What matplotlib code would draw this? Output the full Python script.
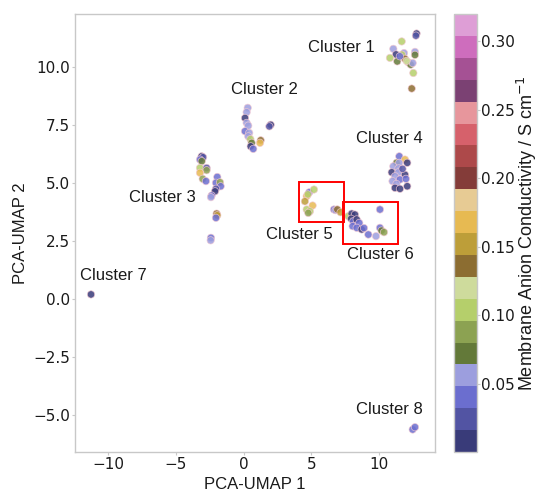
import matplotlib
matplotlib.use("Agg")
import matplotlib.pyplot as plt
import numpy as np
from matplotlib.patches import Rectangle

# ---------------- data ----------------
c1_x = [12.79, 12.74, 11.69, 11.07, 11.27, 11.86, 12.67, 12.67, 10.82, 11.36, 11.71, 11.93, 12.17, 12.35, 12.50, 11.55, 12.55, 12.43, 12.05]
c1_y = [11.43, 11.34, 11.09, 10.77, 10.53, 10.59, 10.64, 10.51, 10.38, 10.23, 10.52, 10.34, 10.19, 10.09, 10.16, 10.45, 9.73, 9.06, 10.25]
c1_v = [0.010, 0.020, 0.100, 0.050, 0.010, 0.050, 0.055, 0.070, 0.100, 0.070, 0.105, 0.135, 0.110, 0.075, 0.060, 0.045, 0.110, 0.135, 0.120]

c2_x = [0.30, 0.22, 0.10, 0.22, 0.34, 2.00, 1.90, 0.10, 0.41, 0.34, 0.50, 0.59, 1.26, 1.21, 0.52, 0.71]
c2_y = [8.23, 8.04, 7.79, 7.58, 7.46, 7.50, 7.43, 7.22, 7.15, 7.00, 6.88, 6.72, 6.83, 6.72, 6.57, 6.46]
c2_v = [0.055, 0.055, 0.010, 0.055, 0.055, 0.010, 0.020, 0.040, 0.055, 0.060, 0.100, 0.070, 0.140, 0.165, 0.010, 0.035]

c3_x = [-3.11, -3.00, -3.23, -3.10, -3.23, -2.74, -2.74, -3.23, -3.03, -2.79, -1.95, -2.05, -1.75, -1.70, -2.05, -2.12, -2.37, -2.42, -2.00, -1.95, -2.05, -2.42, -2.44]
c3_y = [6.14, 6.10, 6.00, 5.93, 5.64, 5.64, 5.54, 5.43, 5.17, 5.07, 5.25, 5.00, 5.02, 4.85, 4.74, 4.63, 4.45, 4.38, 3.67, 3.60, 3.49, 2.63, 2.52]
c3_v = [0.010, 0.025, 0.040, 0.070, 0.100, 0.020, 0.090, 0.165, 0.085, 0.040, 0.040, 0.040, 0.090, 0.040, 0.020, 0.010, 0.040, 0.055, 0.135, 0.150, 0.040, 0.040, 0.055]

c4_x = [11.51, 11.93, 11.31, 11.50, 12.10, 11.07, 11.45, 10.95, 11.44, 11.93, 11.19, 11.01, 11.56, 12.00, 11.30, 11.19, 11.56, 12.10, 11.75]
c4_y = [6.14, 6.00, 5.86, 5.86, 5.86, 5.71, 5.62, 5.45, 5.45, 5.35, 5.28, 5.07, 5.14, 5.17, 4.95, 4.78, 4.74, 4.85, 5.60]
c4_v = [0.040, 0.165, 0.075, 0.055, 0.010, 0.055, 0.055, 0.010, 0.055, 0.010, 0.055, 0.055, 0.040, 0.040, 0.060, 0.010, 0.010, 0.010, 0.020]

c5_x = [4.85, 5.20, 4.66, 4.53, 4.75, 5.10, 4.66, 4.90, 4.78, 6.68, 6.80, 6.93, 7.17]
c5_y = [4.59, 4.71, 4.42, 4.20, 4.50, 4.02, 3.85, 3.77, 3.70, 3.85, 3.82, 3.85, 3.73]
c5_v = [0.040, 0.100, 0.165, 0.150, 0.100, 0.165, 0.100, 0.100, 0.085, 0.040, 0.055, 0.135, 0.150]

c6_x = [10.08, 7.74, 7.99, 8.23, 7.95, 8.11, 8.36, 8.55, 8.06, 8.36, 8.73, 8.90, 9.22, 9.79, 10.08, 10.20, 10.38]
c6_y = [3.85, 3.56, 3.67, 3.63, 3.45, 3.34, 3.42, 3.27, 3.13, 3.06, 2.99, 3.05, 2.77, 2.70, 3.06, 2.94, 2.87]
c6_v = [0.040, 0.100, 0.010, 0.010, 0.010, 0.040, 0.010, 0.040, 0.040, 0.040, 0.010, 0.040, 0.040, 0.055, 0.040, 0.075, 0.085]

c7_x = [-11.29]
c7_y = [0.19]
c7_v = [0.010]

c8_x = [12.50, 12.67]
c8_y = [-5.63, -5.53]
c8_v = [0.040, 0.040]

cluster_names = ["Cluster 1", "Cluster 2", "Cluster 3", "Cluster 4",
                 "Cluster 5", "Cluster 6", "Cluster 7", "Cluster 8"]
label_x = [7.25, 1.50, -6.00, 10.75, 4.09, 10.14, -9.65, 10.75]
label_y = [10.84, 9.00, 4.35, 6.89, 2.77, 1.91, 1.00, -4.77]

# highlighted regions: (x0, y0, x1, y1)
box_cluster5 = (4.10, 3.32, 7.42, 5.04)
box_cluster6 = (7.38, 2.37, 11.39, 4.18)

cbar_ticks = [0.05, 0.10, 0.15, 0.20, 0.25, 0.30]
v_min, v_max = 0.0, 0.32

# ---------------- plotting ----------------
xs = np.concatenate([c1_x, c2_x, c3_x, c4_x, c5_x, c6_x, c7_x, c8_x])
ys = np.concatenate([c1_y, c2_y, c3_y, c4_y, c5_y, c6_y, c7_y, c8_y])
vs = np.concatenate([c1_v, c2_v, c3_v, c4_v, c5_v, c6_v, c7_v, c8_v])

TXT = ["Liberation Sans", "DejaVu Sans"]
TCK = ["DejaVu Sans"]
grey = "#c8c8c8"

fig = plt.figure(figsize=(5.39, 4.91), dpi=100)
ax = fig.add_axes([0.139, 0.0794, 0.668, 0.892])
cax = fig.add_axes([0.843, 0.0794, 0.0414, 0.892])

sc = ax.scatter(xs, ys, c=vs, cmap="tab20b", vmin=v_min, vmax=v_max,
                s=28, alpha=0.85, edgecolors="#f3c9d2", linewidths=0.5, zorder=3)

for (x0, y0, x1, y1) in (box_cluster5, box_cluster6):
    ax.add_patch(Rectangle((x0, y0), x1 - x0, y1 - y0, fill=False,
                           edgecolor="red", linewidth=1.4, zorder=4))

for name, lx, ly in zip(cluster_names, label_x, label_y):
    ax.text(lx, ly, name, ha="center", va="center", fontsize=12,
            family=TXT, color="#1a1a1a")

ax.set_xlim(-12.48, 14.15)
ax.set_ylim(-6.6, 12.27)
ax.set_xticks([-10, -5, 0, 5, 10])
ax.set_yticks([-5.0, -2.5, 0.0, 2.5, 5.0, 7.5, 10.0])

for sp in ax.spines.values():
    sp.set_color(grey)
    sp.set_linewidth(1.0)
ax.tick_params(axis="both", length=2, width=0.8, color=grey, pad=1.5,
               labelsize=11, labelcolor="#1a1a1a")
for lab in ax.get_xticklabels() + ax.get_yticklabels():
    lab.set_family(TCK)

ax.set_xlabel("PCA-UMAP 1", fontsize=12, family=TXT, color="#1a1a1a", labelpad=4)
ax.set_ylabel("PCA-UMAP 2", fontsize=12, family=TXT, color="#1a1a1a", labelpad=4)

cb = fig.colorbar(sc, cax=cax)
cb.solids.set_alpha(1)
cb.set_ticks(cbar_ticks)
cb.ax.set_yticklabels([f"{t:.2f}" for t in cbar_ticks])
cb.outline.set_edgecolor(grey)
cb.outline.set_linewidth(1.0)
cb.ax.tick_params(length=2, width=0.8, color=grey, pad=1.2, labelsize=11,
                  labelcolor="#1a1a1a")
for lab in cb.ax.get_yticklabels():
    lab.set_family(TCK)
cb.set_label(r"Membrane Anion Conductivity / S cm$^{-1}$", fontsize=13,
             family=TXT, color="#1a1a1a", labelpad=0)

fig.savefig("out.png", dpi=100, facecolor="white")
